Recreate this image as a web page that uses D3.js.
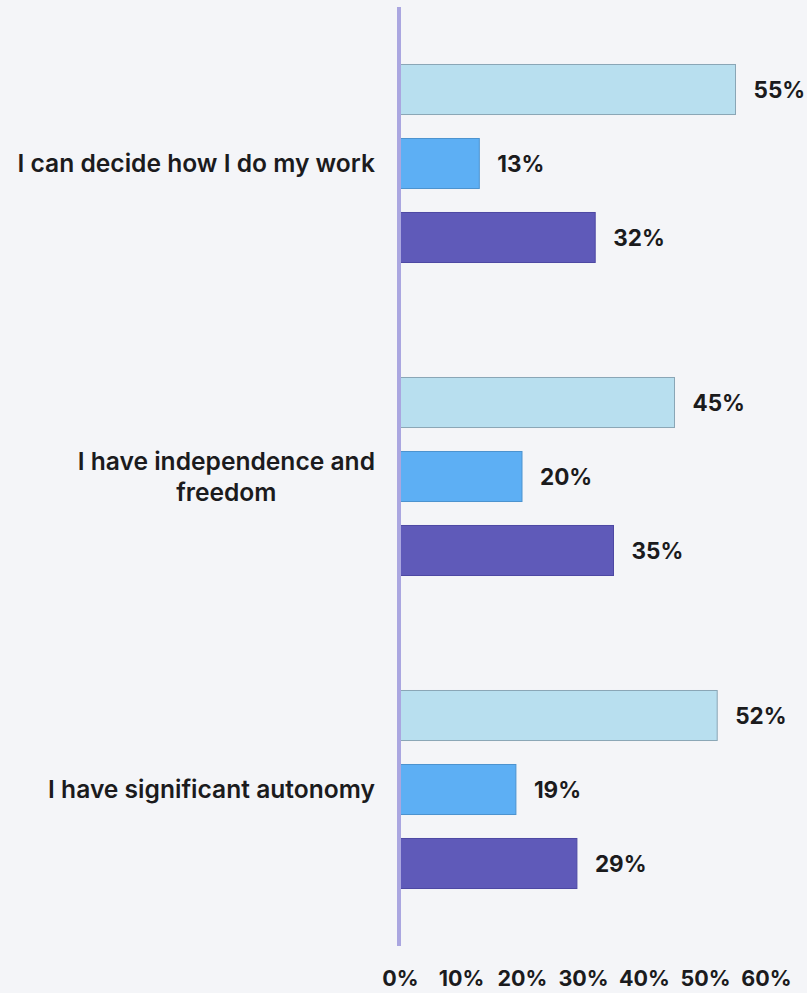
<!DOCTYPE html>
<html>
<head>
<meta charset="utf-8">
<script src="https://cdn.jsdelivr.net/npm/d3@7"></script>
<style>
  html, body { margin: 0; padding: 0; background: #f4f5f8; }
  svg { display: block; }
  text { font-family: Inter, "Noto Sans", sans-serif; fill: #1b1b1d; }
</style>
</head>
<body>
<div id="chart"></div>
<script>
// Survey statements (one group per statement)
const categories = [
  "I can decide how I do my work",
  "I have independence and freedom",
  "I have significant autonomy"
];
// Three response series, in drawing order within each group (percent)
const seriesKeys = ["s1", "s2", "s3"];
const seriesS1 = [55, 45, 52];
const seriesS2 = [13, 20, 19];
const seriesS3 = [32, 35, 29];
const seriesColors = ["#b8dfef", "#5daff4", "#5f5ab9"];
const seriesStrokes = ["#8aa6b6", "#4c93cf", "#4d48a3"];
// Axis ticks
const tickValues = [0, 10, 20, 30, 40, 50, 60];
const tickLabels = ["0%", "10%", "20%", "30%", "40%", "50%", "60%"];

const W = 807, H = 993;
const svg = d3.select("#chart").append("svg")
  .attr("width", W).attr("height", H);

svg.append("rect").attr("width", W).attr("height", H).attr("fill", "#f4f5f8");

const x = d3.scaleLinear().domain([0, 60]).range([400, 766]);
const y = d3.scaleBand().domain(categories).range([7, 946]).padding(0);
const ySub = d3.scaleBand().domain(seriesKeys)
  .range([0, y.bandwidth()]).paddingInner(0.324).paddingOuter(0.777);

const rows = categories.map((c, i) => ({
  category: c,
  values: [seriesS1[i], seriesS2[i], seriesS3[i]]
}));

const groups = svg.append("g").selectAll("g")
  .data(rows).join("g")
  .attr("transform", d => `translate(0,${y(d.category)})`);

const bars = groups.selectAll("g.bar")
  .data(d => d.values.map((v, k) => ({ key: seriesKeys[k], k, v })))
  .join("g").attr("class", "bar");

bars.append("rect")
  .attr("x", x(0))
  .attr("y", d => ySub(d.key))
  .attr("width", d => x(d.v) - x(0))
  .attr("height", ySub.bandwidth())
  .attr("fill", d => seriesColors[d.k])
  .attr("stroke", d => seriesStrokes[d.k])
  .attr("stroke-width", 1);

bars.append("text")
  .attr("x", d => x(d.v) + 18)
  .attr("y", d => ySub(d.key) + ySub.bandwidth() / 2)
  .attr("dy", "0.36em")
  .attr("font-size", 22.5)
  .attr("font-weight", 700)
  .text(d => d.v + "%");

// Vertical baseline
svg.append("rect")
  .attr("x", x(0) - 3).attr("y", 7)
  .attr("width", 4).attr("height", 939)
  .attr("fill", "#aaa6e0");

// Category labels: wrapped, lines centred within a block right-aligned at the axis
const labelRight = 375, maxWidth = 372, lineHeight = 31, labelSize = 24.6;
const labelG = svg.append("g");
rows.forEach(r => {
  const words = r.category.split(" ");
  const probe = labelG.append("text").attr("font-size", labelSize).attr("font-weight", 600);
  const lines = [];
  let line = [];
  words.forEach(w => {
    line.push(w);
    probe.text(line.join(" "));
    if (probe.node().getComputedTextLength() > maxWidth && line.length > 1) {
      line.pop();
      lines.push(line.join(" "));
      line = [w];
    }
  });
  lines.push(line.join(" "));
  probe.remove();

  const t = labelG.append("text")
    .attr("font-size", labelSize).attr("font-weight", 600)
    .attr("text-anchor", "middle");
  const cy = y(r.category) + y.bandwidth() / 2;
  const spans = lines.map((ln, i) => t.append("tspan")
    .attr("y", cy + (i - (lines.length - 1) / 2) * lineHeight)
    .attr("dy", "0.36em")
    .text(ln));
  const blockW = d3.max(spans, s => s.node().getComputedTextLength());
  spans.forEach(s => s.attr("x", labelRight - blockW / 2));
});

// Bottom axis labels
const xAxis = d3.axisBottom(x).tickValues(tickValues)
  .tickFormat((d, i) => tickLabels[i]).tickSize(0).tickPadding(0);
const ax = svg.append("g").attr("transform", "translate(0,971)").call(xAxis);
ax.select(".domain").remove();
ax.selectAll("text")
  .attr("font-family", "Inter, 'Noto Sans', sans-serif")
  .attr("font-size", 21.5).attr("font-weight", 700)
  .attr("fill", "#1b1b1d")
  .attr("dy", "0.72em");
</script>
</body>
</html>
